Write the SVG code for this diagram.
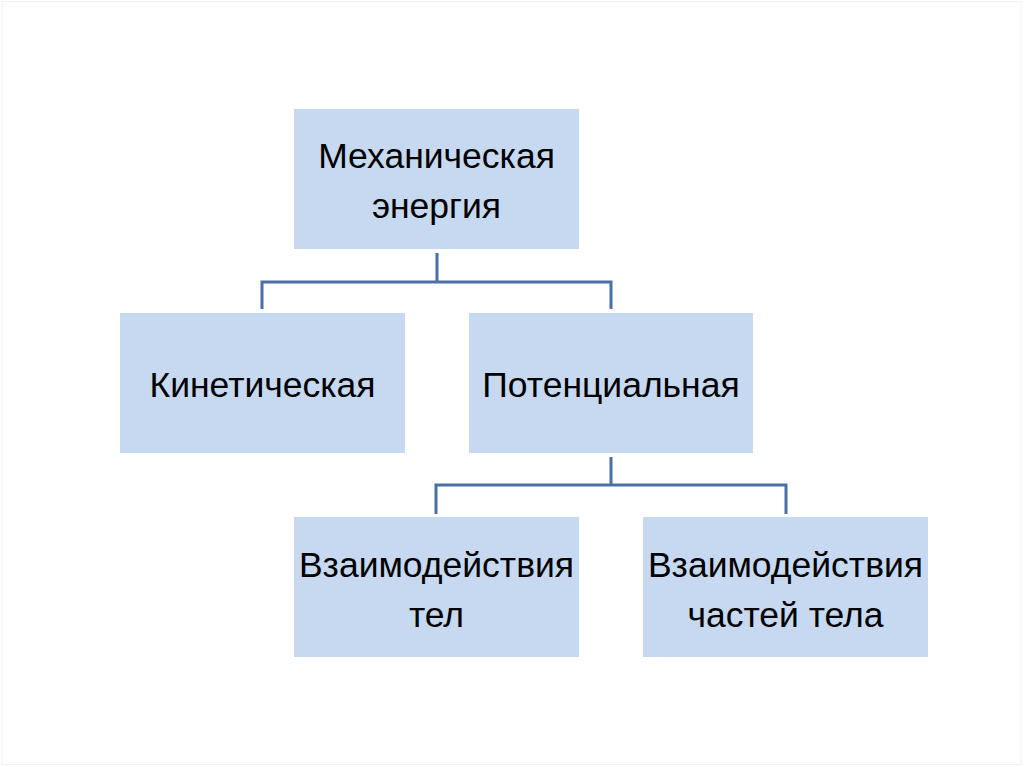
<svg xmlns="http://www.w3.org/2000/svg" width="1024" height="767" viewBox="0 0 1024 767">
<style>
.box{fill:#c6d9f0}
.lbl{font-family:"Liberation Sans","DejaVu Sans",sans-serif;font-size:35.5px;fill:#000;text-anchor:middle}
.conn{fill:none;stroke:#4a70a6;stroke-width:3}
</style>
<rect x="0" y="0" width="1024" height="767" fill="#fff"/>
<rect x="2" y="1.5" width="1019" height="763" fill="none" stroke="#f2f2f2" stroke-width="1"/>
<g id="connectors">
<path class="conn" d="M437 253V282M262 309V282H611V309"/>
<path class="conn" d="M611 457V485M436 514V485H786V514"/>
</g>
<g id="mech">
<rect class="box" x="294" y="109" width="285" height="140"/>
<text class="lbl" x="436.5" y="168">Механическая</text>
<text class="lbl" x="436.5" y="218">энергия</text>
</g>
<g id="kin">
<rect class="box" x="120" y="313" width="285" height="140"/>
<text class="lbl" x="262.5" y="397">Кинетическая</text>
</g>
<g id="pot">
<rect class="box" x="469" y="313" width="284" height="140"/>
<text class="lbl" x="611" y="397">Потенциальная</text>
</g>
<g id="bodies">
<rect class="box" x="294" y="517" width="285" height="140"/>
<text class="lbl" x="436.5" y="577">Взаимодействия</text>
<text class="lbl" x="436.5" y="627">тел</text>
</g>
<g id="parts">
<rect class="box" x="643" y="517" width="285" height="140"/>
<text class="lbl" x="785.5" y="577">Взаимодействия</text>
<text class="lbl" x="785.5" y="627">частей тела</text>
</g>
</svg>
